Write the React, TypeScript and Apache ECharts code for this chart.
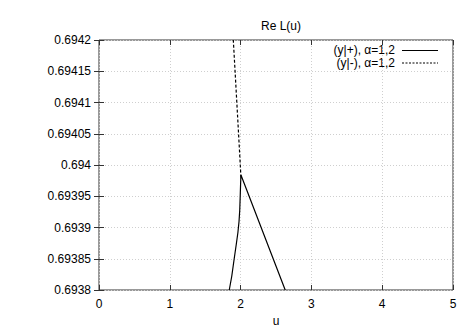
import React, { useEffect, useRef } from "react";
import * as echarts from "echarts";

const titleText = "Re L(u)";
const xName = "u";
const xTicks = [0, 1, 2, 3, 4, 5];
const yMin = 0.6938;
const yMax = 0.6942;
const yStep = 0.00005;

// (y|+), α=1,2 — solid
const plusU = [1.84, 1.875, 1.907, 1.94, 1.962, 1.978, 1.988, 1.996, 2.0, 2.005, 2.63];
const plusL = [0.6938, 0.693822, 0.693848, 0.693874, 0.693892, 0.69391, 0.693928, 0.693955, 0.69397, 0.693984, 0.6938];

// (y|-), α=1,2 — dashed
const minusU = [2.005, 1.98, 1.955, 1.927, 1.897];
const minusL = [0.69398, 0.694032, 0.694083, 0.69414, 0.6942];

const legendLabels = ["(y|+), α=1,2", "(y|-), α=1,2"];

const FONT = "Liberation Sans, Arial, Helvetica, sans-serif";

export default function App() {
  const ref = useRef<HTMLDivElement>(null);
  useEffect(() => {
    const chart = echarts.init(ref.current!, null, { renderer: "svg" });
    const axisLine = { show: false, lineStyle: { color: "#000" } };
    const tick = { show: true, inside: true, length: 5, lineStyle: { color: "#333", width: 1 } };
    const fmtY = (v: number) => {
      let s = v.toFixed(5);
      s = s.replace(/0+$/, "").replace(/\.$/, "");
      return s;
    };
    chart.setOption({
      animation: false,
      backgroundColor: "#fff",
      textStyle: { fontFamily: FONT, color: "#000" },
      title: {
        text: titleText,
        left: 276,
        top: 15,
        textAlign: "center",
        textStyle: { fontSize: 12, fontWeight: "normal", color: "#000", fontFamily: FONT },
      },
      grid: {
        left: 99,
        right: 21,
        top: 40,
        bottom: 42,
        show: true,
        borderColor: "#333",
        borderWidth: 1,
        backgroundColor: "transparent",
      },
      xAxis: [
        {
          type: "value",
          min: xTicks[0],
          max: xTicks[xTicks.length - 1],
          interval: 1,
          axisLine,
          axisTick: tick,
          axisLabel: { fontSize: 12, color: "#000", margin: 8, fontFamily: FONT },
          splitLine: { show: true, lineStyle: { color: "#cfcfcf", type: [1, 2], width: 1 } },
        },
        {
          type: "value",
          position: "top",
          min: xTicks[0],
          max: xTicks[xTicks.length - 1],
          interval: 1,
          axisLine,
          axisTick: tick,
          axisLabel: { show: false },
          splitLine: { show: false },
        },
      ],
      yAxis: [
        {
          type: "value",
          min: yMin,
          max: yMax,
          interval: yStep,
          axisLine,
          axisTick: tick,
          axisLabel: { fontSize: 12, color: "#000", margin: 8, formatter: fmtY, fontFamily: FONT },
          splitLine: { show: true, lineStyle: { color: "#cfcfcf", type: [1, 2], width: 1 } },
        },
        {
          type: "value",
          position: "right",
          min: yMin,
          max: yMax,
          interval: yStep,
          axisLine,
          axisTick: tick,
          axisLabel: { show: false },
          splitLine: { show: false },
        },
      ],
      series: [
        {
          name: legendLabels[0],
          type: "line",
          data: plusU.map((u, i) => [u, plusL[i]]),
          showSymbol: false,
          symbol: "none",
          lineStyle: { color: "#000", width: 1.2, type: "solid" },
          clip: true,
        },
        {
          name: legendLabels[1],
          type: "line",
          data: minusU.map((u, i) => [u, minusL[i]]),
          showSymbol: false,
          symbol: "none",
          lineStyle: { color: "#000", width: 1.2, type: [3, 2] },
          clip: true,
        },
      ],
      graphic: [
        {
          type: "text",
          style: {
            text: xName,
            x: 276,
            y: 321,
            align: "center",
            verticalAlign: "middle",
            fontSize: 12,
            fill: "#000",
            fontFamily: FONT,
          },
        },
        {
          type: "text",
          style: {
            text: legendLabels[0],
            x: 395,
            y: 50,
            align: "right",
            verticalAlign: "middle",
            fontSize: 12,
            lineHeight: 12,
            fill: "#000",
            fontFamily: FONT,
          },
        },
        {
          type: "text",
          style: {
            text: legendLabels[1],
            x: 395,
            y: 63,
            align: "right",
            verticalAlign: "middle",
            fontSize: 12,
            lineHeight: 12,
            fill: "#000",
            fontFamily: FONT,
          },
        },
        {
          type: "line",
          shape: { x1: 402, y1: 50.5, x2: 438, y2: 50.5 },
          style: { stroke: "#000", lineWidth: 1.2 },
        },
        {
          type: "line",
          shape: { x1: 402, y1: 63, x2: 438, y2: 63 },
          style: { stroke: "#000", lineWidth: 1, lineDash: [2, 1.5] },
        },
      ],
    });
    return () => chart.dispose();
  }, []);
  return <div ref={ref} style={{ width: 474, height: 332, position: "absolute", left: 0, top: 0 }} />;
}
